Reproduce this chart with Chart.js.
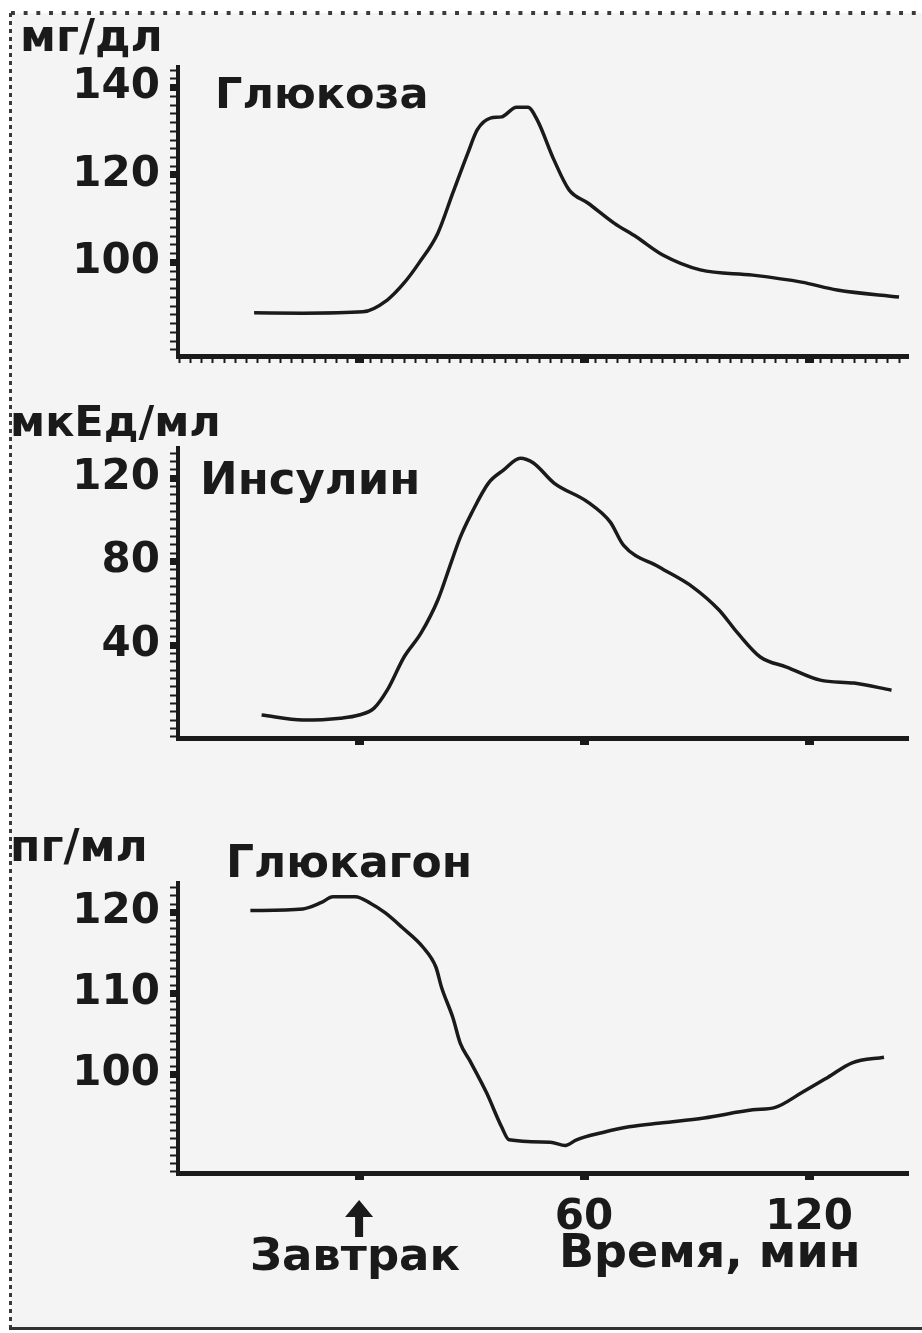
<!DOCTYPE html>
<html>
<head>
<meta charset="utf-8">
<script src="https://cdn.jsdelivr.net/npm/chart.js@4.4.1/dist/chart.umd.min.js"></script>
<style>
  html, body { margin: 0; padding: 0; background: #fff; }
  #page { position: relative; width: 922px; height: 1333px; overflow: hidden; }
  #sheet { position: absolute; left: 11px; top: 13px; right: 0; bottom: 4px; background: #f4f4f4; }
  .dots-top { position: absolute; left: 11px; top: 11px; width: 911px; height: 4px;
    background-image: linear-gradient(to right, #3a3a3a 0 4px, transparent 4px);
    background-size: 12.7px 4px; background-repeat: repeat-x; }
  .dots-left { position: absolute; left: 9px; top: 13px; width: 3px; height: 1314px;
    background-image: linear-gradient(to bottom, #3a3a3a 0 4px, transparent 4px);
    background-size: 3px 8px; background-repeat: repeat-y; }
  .base { position: absolute; left: 9px; top: 1327px; width: 913px; height: 3px; background: #333; }
  canvas { position: absolute; left: 0; }
</style>
</head>
<body>
<div id="page">
  <div id="sheet"></div>
  <div class="dots-top"></div>
  <div class="dots-left"></div>
  <div class="base"></div>
  <canvas id="glucose" width="922" height="400" style="top:0"></canvas>
  <canvas id="insulin" width="922" height="420" style="top:400px"></canvas>
  <canvas id="glucagon" width="922" height="513" style="top:820px"></canvas>
</div>
<script>
// time in minutes, 0 = breakfast
const xMin = -48.3, xMax = 146.4;
const timeTicks = [60, 120];
const breakfastTime = 0;

// glucose, mg/dl
const glucoseTime  = [-28, -15, 1, 7.5, 12, 16, 21, 25, 29, 31.5, 35, 38, 42, 45, 47.5, 52, 56, 61, 68, 74, 81, 91, 105, 118, 127.5, 144];
const glucoseValue = [88.5, 88.4, 88.7, 91.4, 95.3, 99.9, 106.7, 115.9, 125, 130.3, 133, 133.3, 135.5, 135.5, 132.6, 123.4, 116.6, 113.6, 109, 105.8, 101.7, 98.3, 97.1, 95.5, 93.7, 92.1];
const glucoseTicks = [100, 120, 140];

// insulin, mcU/ml
const insulinTime  = [-26, -15, -5, 0, 4, 7.5, 12, 16.5, 21, 24.5, 27, 30, 34.5, 38.5, 43, 46.5, 52, 61, 67, 70.5, 80, 89, 96, 101, 107, 114, 123, 132, 142];
const insulinValue = [6.5, 4.1, 5, 6.5, 9.8, 18.4, 34.3, 45.7, 61.6, 79.3, 91.7, 103.2, 117.6, 123.8, 129.5, 127.2, 117.6, 108.5, 98.9, 87.9, 77.4, 67.8, 56.8, 45.7, 34.3, 29.5, 23.2, 21.8, 18.4];
const insulinTicks = [40, 80, 120];

// glucagon, pg/ml
const glucagonTime  = [-29, -15, -10, -7, -1, 3, 7, 11.5, 17, 20.5, 22, 25, 27, 29.5, 34, 38, 40, 51, 55, 58, 65, 72, 81, 92, 105, 111, 118, 125, 131.5, 140];
const glucagonValue = [120.2, 120.4, 121.2, 121.9, 121.9, 121.1, 119.9, 118.1, 115.7, 113.2, 110.7, 107, 103.8, 101.7, 97.7, 93.5, 91.9, 91.6, 91.2, 91.9, 92.8, 93.5, 94, 94.6, 95.6, 95.9, 97.7, 99.6, 101.4, 102.1];
const glucagonTicks = [100, 110, 120];

const ink = '#1a1a1a';
const face = '"DejaVu Sans", "Liberation Sans", sans-serif';

// free text + breakfast arrow, drawn on top of each panel
const panelText = {
    id: 'panelText',
    afterDraw(chart, args, o) {
        const ctx = chart.ctx;
        ctx.save();
        ctx.fillStyle = ink;
        ctx.textBaseline = 'middle';
        (o.items || []).forEach(it => {
            ctx.font = it.font;
            ctx.textAlign = it.align || 'left';
            ctx.fillText(it.text, it.x, it.y);
        });
        if (o.arrow) {
            const x = chart.scales.x.getPixelForValue(breakfastTime);
            const top = o.arrow.top, bottom = o.arrow.bottom;
            ctx.beginPath();
            ctx.moveTo(x, top);
            ctx.lineTo(x + 14, top + 17);
            ctx.lineTo(x + 4, top + 17);
            ctx.lineTo(x + 4, bottom);
            ctx.lineTo(x - 4, bottom);
            ctx.lineTo(x - 4, top + 17);
            ctx.lineTo(x - 14, top + 17);
            ctx.closePath();
            ctx.fill();
        }
        ctx.restore();
    }
};

function makePanel(id, cfg) {
    const ctx = document.getElementById(id).getContext('2d');
    const data = cfg.time.map((t, i) => ({ x: t, y: cfg.values[i] }));
    return new Chart(ctx, {
        type: 'line',
        data: {
            datasets: [{
                data: data,
                borderColor: ink,
                borderWidth: 3.5,
                cubicInterpolationMode: 'monotone',
                pointRadius: 0,
                fill: false
            }]
        },
        options: {
            responsive: false,
            animation: false,
            layout: { padding: { top: cfg.top, right: 14, bottom: 0, left: 0 } },
            plugins: {
                legend: { display: false },
                tooltip: { enabled: false },
                panelText: { items: cfg.texts, arrow: cfg.arrow }
            },
            scales: {
                x: {
                    type: 'linear',
                    min: xMin,
                    max: xMax,
                    afterFit: s => { s.height = cfg.xHeight; },
                    border: { display: true, color: ink, width: 5 },
                    grid: {
                        drawOnChartArea: false,
                        tickLength: 7,
                        tickColor: ink,
                        tickWidth: c => (c.tick && c.tick.value % 60 === 0) ? 9 : 2
                    },
                    ticks: {
                        stepSize: cfg.xStep,
                        includeBounds: false,
                        autoSkip: false,
                        maxRotation: 0,
                        padding: 13,
                        color: ink,
                        font: { family: face, weight: 'bold', size: 42 },
                        callback: v => (cfg.xLabels && timeTicks.includes(v)) ? String(v) : ''
                    }
                },
                y: {
                    min: cfg.yMin,
                    max: cfg.yMax,
                    afterFit: s => { s.width = 178; },
                    border: { display: true, color: ink, width: 4 },
                    grid: {
                        drawOnChartArea: false,
                        tickLength: 8,
                        tickColor: ink,
                        tickWidth: c => (c.tick && cfg.yTicks.includes(c.tick.value)) ? 7 : 2
                    },
                    ticks: {
                        stepSize: cfg.yStep,
                        includeBounds: false,
                        autoSkip: false,
                        maxTicksLimit: 200,
                        padding: 10,
                        color: ink,
                        font: { family: face, weight: 'bold', size: 42 },
                        callback: v => cfg.yTicks.includes(v) ? String(v) : ''
                    }
                }
            }
        },
        plugins: [panelText]
    });
}

makePanel('glucose', {
    time: glucoseTime, values: glucoseValue, yTicks: glucoseTicks,
    yMin: 78.6, yMax: 144.7, yStep: 2, xStep: 3, xLabels: false,
    top: 67, xHeight: 44,
    texts: [
        { text: 'мг/дл', x: 20, y: 40, font: 'bold 44px ' + face },
        { text: 'Глюкоза', x: 215, y: 97, font: 'bold 43px ' + face }
    ]
});

makePanel('insulin', {
    time: insulinTime, values: insulinValue, yTicks: insulinTicks,
    yMin: -4.5, yMax: 134.4, yStep: 4, xStep: 60, xLabels: false,
    top: 48, xHeight: 82,
    texts: [
        { text: 'мкЕд/мл', x: 10, y: 25, font: 'bold 43px ' + face },
        { text: 'Инсулин', x: 200, y: 82, font: 'bold 45px ' + face }
    ]
});

makePanel('glucagon', {
    time: glucagonTime, values: glucagonValue, yTicks: glucagonTicks,
    yMin: 87.8, yMax: 123.6, yStep: 1, xStep: 60, xLabels: true,
    top: 63, xHeight: 160,
    texts: [
        { text: 'пг/мл', x: 10, y: 30, font: 'bold 44px ' + face },
        { text: 'Глюкагон', x: 226, y: 46, font: 'bold 44px ' + face },
        { text: 'Завтрак', x: 355, y: 438, align: 'center', font: 'bold 45px ' + face },
        { text: 'Время, мин', x: 559, y: 435, font: 'bold 46px ' + face }
    ],
    arrow: { top: 380, bottom: 417 }
});
</script>
</body>
</html>
